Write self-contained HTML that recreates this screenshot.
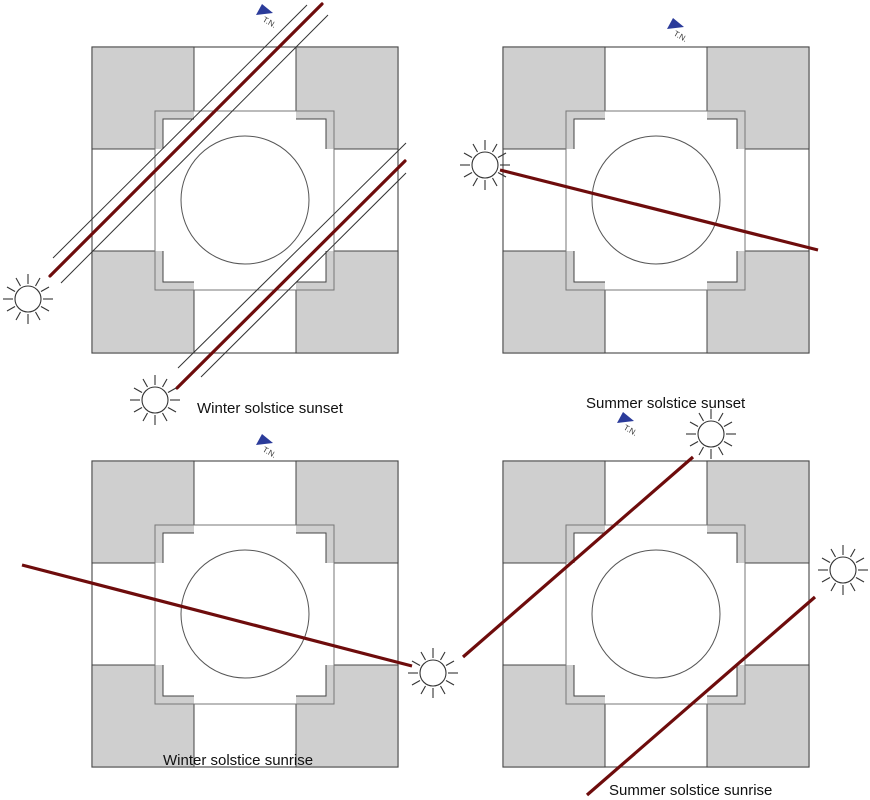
<!DOCTYPE html>
<html><head><meta charset="utf-8"><style>
html,body{margin:0;padding:0;background:#fff;}
svg{display:block;}
text{font-family:"Liberation Sans",sans-serif;}
</style></head><body>
<svg width="870" height="800" viewBox="0 0 870 800" xmlns="http://www.w3.org/2000/svg">
<defs>
<g id="plan">
  <rect x="0" y="0" width="306" height="306" fill="#fff" stroke="#555" stroke-width="1.2"/>
  <rect x="0" y="0" width="102" height="102" fill="#cfcfcf" stroke="#444" stroke-width="1"/>
  <rect x="204" y="0" width="102" height="102" fill="#cfcfcf" stroke="#444" stroke-width="1"/>
  <rect x="0" y="204" width="102" height="102" fill="#cfcfcf" stroke="#444" stroke-width="1"/>
  <rect x="204" y="204" width="102" height="102" fill="#cfcfcf" stroke="#444" stroke-width="1"/>
  <rect x="63" y="64" width="179" height="179" fill="#cfcfcf" stroke="none"/>
  <rect x="71" y="72" width="163" height="163" fill="#fff" stroke="none"/>
  <rect x="63" y="102" width="179" height="102" fill="#fff"/>
  <rect x="102" y="64" width="102" height="179" fill="#fff"/>
  <rect x="63" y="64" width="179" height="179" fill="none" stroke="#777" stroke-width="1"/>
  <path d="M102,72 H71 V102 M204,72 H234 V102 M71,204 V235 H102 M234,204 V235 H204" fill="none" stroke="#444" stroke-width="1"/>
  <circle cx="153" cy="153" r="64" fill="none" stroke="#555" stroke-width="1"/>
</g>
<g id="sun" stroke="#333" stroke-width="1.1">
  <circle cx="0" cy="0" r="13" fill="#fff"/>
  <line x1="15" y1="0" x2="25" y2="0"/><line x1="-15" y1="0" x2="-25" y2="0"/>
  <line x1="0" y1="15" x2="0" y2="25"/><line x1="0" y1="-15" x2="0" y2="-25"/>
  <line x1="13" y1="7.5" x2="21" y2="12"/><line x1="-13" y1="7.5" x2="-21" y2="12"/>
  <line x1="13" y1="-7.5" x2="21" y2="-12"/><line x1="-13" y1="-7.5" x2="-21" y2="-12"/>
  <line x1="7.5" y1="13" x2="12" y2="21"/><line x1="-7.5" y1="13" x2="-12" y2="21"/>
  <line x1="7.5" y1="-13" x2="12" y2="-21"/><line x1="-7.5" y1="-13" x2="-12" y2="-21"/>
</g>
</defs>

<use href="#plan" x="92" y="47"/>
<use href="#plan" x="503" y="47"/>
<use href="#plan" x="92" y="461"/>
<use href="#plan" x="503" y="461"/>

<g fill="#2b3b9a">
  <polygon points="256,15 262,4 273,13"/>
  <polygon points="667,29 673,18 684,27"/>
  <polygon points="256,445 262,434 273,443"/>
  <polygon points="617,423 623,412 634,421"/>
</g>
<g font-size="8" fill="#333">
  <text transform="translate(262,21) rotate(30)">T.N.</text>
  <text transform="translate(673,35) rotate(30)">T.N.</text>
  <text transform="translate(262,451) rotate(30)">T.N.</text>
  <text transform="translate(623,429) rotate(30)">T.N.</text>
</g>

<g stroke="#333" stroke-width="1">
  <line x1="53" y1="258" x2="307" y2="5"/>
  <line x1="61" y1="283" x2="328" y2="15"/>
  <line x1="178" y1="368" x2="406" y2="143"/>
  <line x1="201" y1="377" x2="406" y2="173"/>
</g>
<g stroke="#6e0c0c" stroke-width="3.2" stroke-linecap="round">
  <line x1="50" y1="276" x2="322" y2="4"/>
  <line x1="177" y1="388" x2="405" y2="161"/>
</g>
<use href="#sun" x="28" y="299"/>
<use href="#sun" x="155" y="400"/>

<line x1="500" y1="170" x2="818" y2="250" stroke="#6e0c0c" stroke-width="3.2"/>
<use href="#sun" x="485" y="165"/>

<line x1="22" y1="565" x2="412" y2="666" stroke="#6e0c0c" stroke-width="3.2"/>
<use href="#sun" x="433" y="673"/>

<g stroke="#6e0c0c" stroke-width="3.2">
  <line x1="463" y1="657" x2="693" y2="457"/>
  <line x1="587" y1="795" x2="815" y2="597"/>
</g>
<use href="#sun" x="711" y="434"/>
<use href="#sun" x="843" y="570"/>

<g font-size="15" fill="#111">
  <text x="197" y="413">Winter solstice sunset</text>
  <text x="586" y="408">Summer solstice sunset</text>
  <text x="163" y="765">Winter solstice sunrise</text>
  <text x="609" y="795">Summer solstice sunrise</text>
</g>
</svg>
</body></html>
